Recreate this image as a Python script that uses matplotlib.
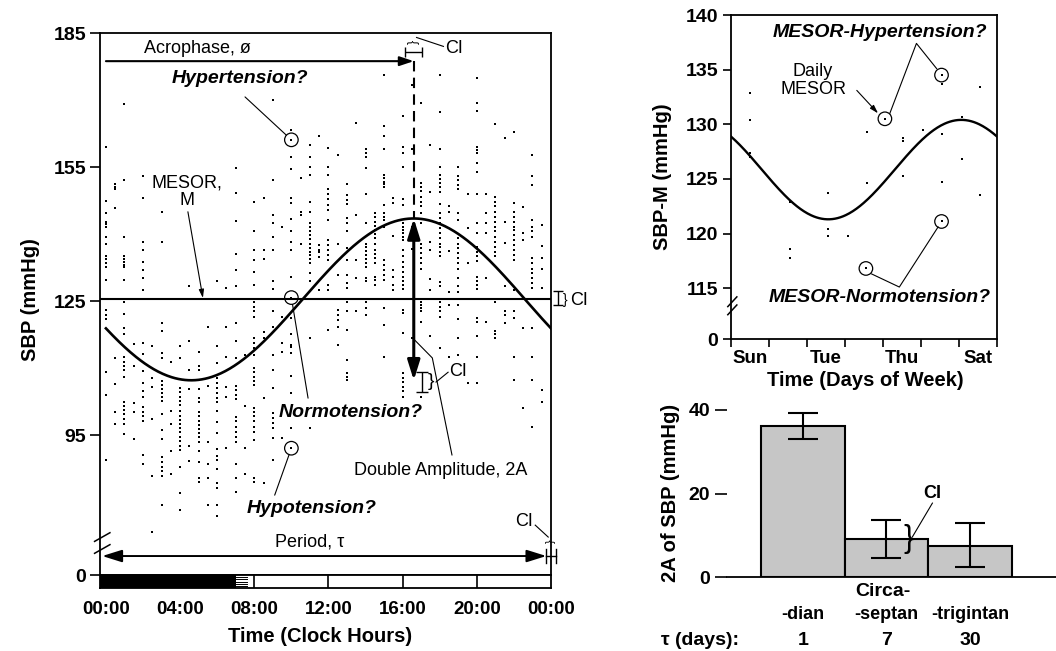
import numpy as np
import matplotlib
matplotlib.use("Agg")
import matplotlib.pyplot as plt
from matplotlib.patches import Rectangle
from matplotlib.transforms import blended_transform_factory

plt.rcParams['font.family'] = ['Liberation Sans', 'DejaVu Sans']
plt.rcParams['axes.linewidth'] = 1.3

W, H = 1056, 651

# ---------------- 24-hour profile: SBP readings in half-hour slots ----------------
sbp_00_08 = [
    [159.4, 147.5, 144.8, 142.8, 142.2, 141.5, 139.4, 137.8, 135.1, 134.4, 133.5, 132.7, 129.7, 123.0, 121.9, 121.0, 109.2, 104.0, 89.5],
    [151.2, 150.6, 150.0, 145.8, 112.2, 106.4, 100.3, 97.5],
    [169.1, 152.0, 139.3, 135.0, 134.4, 133.8, 133.2, 132.6, 129.7, 124.9, 122.1, 118.9, 117.6, 112.4, 111.5, 110.6, 109.6, 108.1, 102.5, 101.6, 100.7, 99.7, 98.7, 97.5, 95.2],
    [115.4, 110.4, 102.2, 100.3, 94.2],
    [153.0, 148.0, 138.3, 136.5, 133.8, 132.0, 130.1, 127.4, 115.6, 113.1, 109.4, 106.6, 104.8, 103.6, 101.4, 100.3, 99.2, 98.1, 90.6, 88.5],
    [115.0, 107.9, 105.9, 98.7, 85.8, 73.3],
    [145.0, 138.3, 120.1, 118.3, 113.3, 112.2, 107.2, 106.3, 105.4, 104.4, 103.6, 102.7, 99.7, 96.2, 94.2, 90.2, 89.1, 88.0, 86.9, 85.8, 79.4],
    [111.5, 100.4, 97.5, 91.4, 86.3],
    [115.0, 112.2, 105.5, 104.6, 103.6, 102.7, 101.8, 100.4, 99.4, 98.4, 97.5, 96.6, 95.7, 94.7, 93.7, 92.7, 91.7, 88.0, 82.0, 78.3],
    [128.3, 116.1, 109.6, 105.4, 92.5, 89.3],
    [113.7, 110.6, 109.6, 105.4, 103.3, 102.4, 100.2, 99.2, 98.2, 97.3, 96.4, 95.5, 94.5, 93.6, 91.4, 89.1, 85.5, 84.5],
    [119.3, 106.1, 93.6, 88.5, 85.5, 79.3],
    [129.6, 115.0, 111.1, 107.8, 106.6, 105.5, 104.4, 103.3, 102.4, 100.4, 97.9, 95.5, 91.9, 90.4, 89.5, 87.5, 84.3, 83.1, 79.3, 77.0],
    [127.9, 119.3, 112.6, 105.9, 103.6, 92.2],
    [154.9, 149.1, 143.0, 135.6, 132.0, 128.4, 120.1, 116.1, 112.2, 106.1, 105.1, 104.0, 103.1, 99.0, 98.1, 96.9, 95.8, 94.7, 93.6, 88.5, 85.4, 82.4],
    [113.0, 101.6, 92.2, 86.3],
]
sbp_08_16 = [
    [147.3, 140.6, 136.5, 134.2, 131.6, 128.6, 124.9, 123.8, 122.7, 121.5, 116.7, 115.6, 114.5, 113.0, 110.0, 109.1, 108.1, 107.2, 106.3, 101.2, 100.3, 99.2, 98.1, 96.9, 95.8, 93.9, 85.5, 84.6],
    [148.0, 136.5, 134.4, 118.2, 116.7, 103.4, 84.3],
    [170.0, 152.0, 144.3, 142.4, 139.3, 136.5, 129.6, 127.7, 122.9, 119.3, 113.0, 109.6, 105.5, 99.9, 98.8, 97.7, 96.6, 94.3, 89.5],
    [141.7, 121.5, 115.6, 113.7, 94.3],
    [163.3, 161.1, 157.2, 154.5, 148.0, 147.0, 143.3, 140.6, 138.3, 136.5, 130.5, 125.8, 121.3, 117.6, 115.2, 114.8, 113.3, 108.3, 104.4, 96.6, 92.1],
    [152.5, 145.0, 144.3, 137.9],
    [159.9, 157.2, 155.1, 153.2, 147.3, 145.0, 142.4, 141.5, 140.6, 139.7, 138.8, 137.9, 137.0, 136.1, 135.3, 134.4, 133.5, 131.4, 129.6, 116.7, 96.6],
    [162.0, 137.6, 136.5, 135.9, 134.8, 127.5],
    [159.2, 155.1, 153.2, 150.0, 148.9, 147.8, 146.5, 145.4, 143.2, 138.7, 137.6, 136.5, 135.3, 134.2, 128.6, 127.5, 118.6],
    [157.7, 137.9, 130.9, 123.0, 121.9, 120.8, 119.3, 115.2],
    [151.2, 148.8, 147.6, 146.7, 143.5, 142.4, 140.6, 136.8, 134.2, 130.9, 129.0, 127.9, 124.9, 122.7, 118.6, 111.9, 108.9, 108.1, 107.4],
    [164.9, 144.3, 134.2, 130.1, 122.7],
    [159.0, 158.1, 157.3, 154.7, 148.9, 142.6, 137.9, 137.1, 136.2, 135.3, 134.4, 133.5, 132.6, 130.1, 129.6, 124.9, 123.4, 121.9],
    [144.7, 143.8, 142.8, 141.8, 140.9, 140.0, 139.1, 137.9, 136.5, 135.6, 134.6, 133.5, 130.5, 129.7, 128.6],
    [175.6, 164.2, 162.0, 159.0, 153.2, 152.5, 151.7, 151.2, 150.6, 146.5, 144.8, 143.9, 143.2, 141.7, 134.2, 133.1, 132.0, 130.9, 129.7, 123.4, 119.7, 112.6],
    [148.0, 146.9, 139.6, 132.0, 130.5, 128.6, 127.5],
]
sbp_16_24 = [
    [166.4, 159.4, 158.2, 155.1, 147.8, 146.5, 142.4, 141.7, 140.9, 140.2, 139.4, 138.7, 136.5, 135.0, 133.8, 132.7, 131.6, 130.5, 129.6, 128.6, 127.7, 123.0, 122.3, 117.8, 108.9, 107.8, 106.9, 105.9, 104.8, 103.6],
    [173.4, 159.0, 141.7, 136.6, 116.7],
    [169.4, 151.4, 150.5, 149.6, 148.4, 147.3, 146.2, 144.7, 142.4, 137.9, 136.8, 135.7, 134.6, 133.5, 132.3, 124.9, 124.2, 123.4, 122.7, 120.4, 103.6],
    [159.9, 149.5, 138.3, 136.5, 129.9, 127.5, 117.1],
    [175.6, 167.4, 159.0, 155.1, 153.2, 152.3, 151.4, 150.5, 149.5, 146.7, 144.7, 143.5, 142.4, 141.3, 140.2, 139.1, 137.9, 137.2, 136.1, 135.0, 129.4, 128.3, 124.9, 123.8, 122.7, 121.5, 114.5],
    [146.2, 145.0, 136.3, 127.1, 124.2, 112.6],
    [155.1, 152.9, 152.0, 151.0, 150.0, 144.8, 143.2, 139.1, 137.9, 136.8, 135.7, 134.6, 133.5, 132.3, 130.1, 128.3, 127.1, 124.2, 121.0, 116.7, 113.0],
    [148.9, 141.3, 133.5, 106.6],
    [174.9, 169.3, 167.6, 159.6, 158.8, 158.1, 156.0, 153.8, 148.9, 142.4, 140.2, 137.2, 136.1, 135.0, 133.9, 130.5, 129.6, 128.6, 127.7, 121.3, 120.3, 117.3, 112.4, 106.6],
    [148.9, 144.8, 142.4, 140.3, 130.1, 120.4],
    [164.6, 148.4, 147.3, 146.2, 145.0, 143.9, 142.8, 141.7, 140.6, 139.4, 138.3, 137.2, 136.1, 135.0, 124.9, 118.3, 117.6, 116.8],
    [161.4, 142.8, 138.1, 128.3, 122.7, 121.8, 120.1],
    [162.9, 147.0, 145.0, 143.9, 142.8, 141.7, 140.9, 139.8, 138.7, 137.6, 136.5, 135.3, 134.2, 127.5, 122.7, 121.3, 112.6, 107.4],
    [146.0, 140.3, 138.7, 119.1, 101.2],
    [157.7, 152.9, 151.0, 143.2, 141.7, 140.6, 139.4, 134.6, 133.5, 132.3, 131.2, 130.1, 129.0, 127.9, 119.1, 112.4, 107.4, 96.9],
    [142.1, 137.4, 134.6, 132.1, 127.9, 105.1, 102.4],
]
hour_slots = np.arange(0, 24, 0.5)
sbp_ticks = [0, 95, 125, 155, 185]
hour_ticks = [0, 4, 8, 12, 16, 20, 24]
hour_labels = ['00:00', '04:00', '08:00', '12:00', '16:00', '20:00', '00:00']

# circadian cosinor fit
mesor_24h, amp_24h, acro_24h = 125.4, 18.1, 16.6
mesor_ci = (124.2, 127.3)
acro_ci = (16.15, 17.05)
trough_ci = (104.7, 109.2)
circled_hour = 10.0
circled_sbp = [161.1, 125.8, 92.1]

# ---------------- weekly profile of daily MESORs ----------------
week_day = [0.5, 0.5, 0.5, 0.5, 1.55, 1.55, 1.55, 2.56, 2.56, 2.56, 3.07, 3.57, 3.57, 3.55,
            4.05, 4.52, 4.52, 4.52, 5.06, 5.54, 5.54, 5.54, 5.54, 5.54, 6.07, 6.07, 6.55, 6.55]
week_sbp = [132.9, 130.4, 127.4, 127.0, 122.9, 118.6, 117.8, 123.7, 120.4, 119.8, 119.8, 129.3, 124.6, 116.8,
            130.5, 128.7, 128.5, 125.3, 129.5, 134.5, 133.7, 129.1, 124.7, 121.1, 130.7, 126.8, 133.4, 123.5]
week_circled_day = [4.05, 5.54, 3.55, 5.54]
week_circled_sbp = [130.5, 134.5, 116.8, 121.1]
mesor_7d, amp_7d, acro_7d = 125.85, 4.55, 6.06
week_ticks = [0, 115, 120, 125, 130, 135, 140]
day_labels = ['Sun', 'Tue', 'Thu', 'Sat']
day_label_pos = [0.5, 2.5, 4.5, 6.5]

# ---------------- double amplitudes by component ----------------
components = ['-dian', '-septan', '-trigintan']
periods_days = ['1', '7', '30']
double_amp = [36.2, 9.1, 7.5]
ci_low = [33.0, 4.6, 2.5]
ci_high = [39.3, 13.7, 12.9]
amp_ticks = [0, 20, 40]


def rect(l, t, r, b):
    return [l / W, 1 - b / H, (r - l) / W, (b - t) / H]


def broken_scale(brk, squeeze):
    def fwd(y):
        y = np.asarray(y, dtype=float)
        return np.where(y >= brk, y, brk - (brk - y) * squeeze)

    def inv(z):
        z = np.asarray(z, dtype=float)
        return np.where(z >= brk, z, brk - (brk - z) / squeeze)
    return fwd, inv


def axis_break(ax, y0, y1, dy):
    for yy in (y0, y1):
        ax.plot([-0.012, 0.022], [yy, yy + dy], transform=ax.transAxes,
                color='k', lw=1.1, clip_on=False, zorder=6)


fig = plt.figure(figsize=(W / 100, H / 100), dpi=100)

TICK = dict(fontsize=14, fontweight='bold')
TXT = dict(fontsize=13, color='k')
BI = dict(fontsize=14, fontweight='bold', fontstyle='italic', color='k')
LEAD = dict(color='k', lw=0.8)
DOT = dict(s=4.5, marker='s', c='k', linewidths=0)
head = '-|>,head_length=0.6,head_width=0.2'
dhead = '<|-|>,head_length=0.8,head_width=0.25'

# ======================= left: 24-hour SBP =======================
ax = fig.add_axes(rect(100, 33, 551, 575))
f1, i1 = broken_scale(70, 0.0895)
ax.set_yscale('function', functions=(f1, i1))
ax.set_xlim(-0.32, 24)
ax.set_ylim(0, 185)
ax.set_yticks(sbp_ticks, [str(t) for t in sbp_ticks], **TICK)
ax.yaxis.set_minor_locator(plt.NullLocator())
ax.set_xticks([])
ax.tick_params(axis='y', direction='out', length=7, width=1.2, pad=3)

hrs = np.concatenate([np.full(len(c), h) for h, c in zip(hour_slots, sbp_00_08 + sbp_08_16 + sbp_16_24)])
vals = np.concatenate(sbp_00_08 + sbp_08_16 + sbp_16_24)
ax.scatter(hrs, vals, zorder=3, **DOT)

t24 = np.linspace(0, 24, 400)
fit24 = mesor_24h + amp_24h * np.cos(2 * np.pi * (t24 - acro_24h) / 24)
ax.plot(t24, fit24, color='k', lw=1.9, zorder=4)
ax.axhline(mesor_24h, color='k', lw=1.5, zorder=4)

peak = mesor_24h + amp_24h
trough = mesor_24h - amp_24h
acro_y = 178.7
ax.annotate('', xy=(acro_24h, acro_y), xytext=(0, acro_y),
            arrowprops=dict(arrowstyle=head, color='k', lw=1.5, shrinkA=0, shrinkB=0, mutation_scale=14))
ax.plot([acro_24h, acro_24h], [acro_y, peak], color='k', lw=1.5, ls=(0, (5, 3)), zorder=4)
ax.annotate('', xy=(acro_24h, trough), xytext=(acro_24h, peak),
            arrowprops=dict(arrowstyle=dhead, color='k', lw=2.2, shrinkA=0, shrinkB=0, mutation_scale=15), zorder=5)

# acrophase CI
ax.errorbar(acro_24h, 180.8, xerr=[[acro_24h - acro_ci[0]], [acro_ci[1] - acro_24h]],
            fmt='none', ecolor='k', elinewidth=1.0, capsize=3.5, capthick=1.0)
ax.text(acro_24h, 183.0, '}', rotation=90, ha='center', va='center', fontsize=9)
ax.plot([acro_24h + 0.15, 18.2], [184.0, 182.0], **LEAD)
ax.text(18.3, 181.6, 'CI', ha='left', va='center', **TXT)
ax.text(4.96, 181.6, 'Acrophase, ø', ha='center', va='center', **TXT)

# amplitude CI
ax.errorbar(17.05, trough, yerr=[[trough - trough_ci[0]], [trough_ci[1] - trough]],
            fmt='none', ecolor='k', elinewidth=1.0, capsize=4.5, capthick=1.0)
ax.text(17.55, 107.0, '}', ha='center', va='center', fontsize=14)
ax.plot([17.8, 18.45], [106.9, 109.1], **LEAD)
ax.text(18.5, 109.3, 'CI', ha='left', va='center', **TXT)

# MESOR CI
ax.errorbar(24.4, mesor_24h, yerr=[[mesor_24h - mesor_ci[0]], [mesor_ci[1] - mesor_24h]],
            fmt='none', ecolor='k', elinewidth=1.0, capsize=3.5, capthick=1.0, clip_on=False)
ax.text(24.75, mesor_24h - 0.2, '}', ha='center', va='center', fontsize=10, clip_on=False)
ax.text(25.05, mesor_24h - 0.3, 'CI', ha='left', va='center', **TXT)

ax.text(4.37, 149.5, 'MESOR,\nM', ha='center', va='center', linespacing=1.0, **TXT)
ax.annotate('', xy=(5.23, mesor_24h + 0.3), xytext=(4.42, 145.0),
            arrowprops=dict(arrowstyle='-|>,head_length=0.5,head_width=0.15', color='k', lw=0.8,
                            shrinkA=0, shrinkB=0, mutation_scale=10))

# circled readings
ax.scatter([circled_hour] * 3, circled_sbp, s=95, facecolors='none', edgecolors='k', linewidths=0.9, zorder=5)
ax.text(7.23, 174.9, 'Hypertension?', ha='center', va='center', **BI)
ax.annotate('', xy=(circled_hour, circled_sbp[0]), xytext=(7.5, 170.7),
            arrowprops=dict(arrowstyle='-', color='k', lw=0.8, shrinkA=0, shrinkB=5))
ax.text(13.2, 100.2, 'Normotension?', ha='center', va='center', **BI)
ax.annotate('', xy=(circled_hour, circled_sbp[1]), xytext=(10.9, 103.3),
            arrowprops=dict(arrowstyle='-', color='k', lw=0.8, shrinkA=0, shrinkB=5))
ax.text(11.1, 78.7, 'Hypotension?', ha='center', va='center', **BI)
ax.annotate('', xy=(circled_hour, circled_sbp[2]), xytext=(9.1, 81.6),
            arrowprops=dict(arrowstyle='-', color='k', lw=0.8, shrinkA=0, shrinkB=5))

ax.text(18.07, 87.2, 'Double Amplitude, 2A', ha='center', va='center', **TXT)
ax.plot([18.66, 17.6, acro_24h + 0.05], [90.6, 112.3, 116.3], **LEAD)

# period arrow and its CI along the bottom
bt = blended_transform_factory(ax.transData, ax.transAxes)
ax.annotate('', xy=(-0.2, 0.035), xytext=(23.75, 0.035), xycoords=bt, textcoords=bt,
            arrowprops=dict(arrowstyle=dhead, color='k', lw=1.4, shrinkA=0, shrinkB=0, mutation_scale=15))
ax.plot([23.73, 24.27], [0.035, 0.035], transform=bt, color='k', lw=1.0, clip_on=False)
for xc in (23.73, 24.27):
    ax.plot([xc, xc], [0.022, 0.048], transform=bt, color='k', lw=1.0, clip_on=False)
ax.text(24.0, 0.062, '}', rotation=90, ha='center', va='center', fontsize=8, transform=bt)
ax.plot([23.15, 23.85], [0.092, 0.07], transform=bt, **LEAD)
ax.text(22.55, 0.098, 'CI', ha='center', va='center', transform=bt, **TXT)
ax.text(11.0, 0.061, 'Period, τ', ha='center', va='center', transform=bt, **TXT)
axis_break(ax, 0.04, 0.062, 0.016)

fig.text(30 / W, 1 - 300 / H, 'SBP (mmHg)', rotation=90, ha='center', va='center',
         fontsize=14.5, fontweight='bold')

# light/dark strip with clock-hour axis
axs = fig.add_axes(rect(100, 575, 551, 588))
axs.set_xlim(-0.32, 24)
axs.set_ylim(0, 1)
axs.set_yticks([])
axs.add_patch(Rectangle((-0.32, 0), 7.32, 1, color='k', lw=0))
for yy in np.linspace(0.15, 0.85, 5):
    axs.plot([7.0, 7.6], [yy, yy], color='k', lw=0.7)
for hh in (8, 12, 16, 20):
    axs.axvline(hh, color='k', lw=1.2)
axs.set_xticks(hour_ticks, hour_labels, fontsize=13.5, fontweight='bold')
axs.tick_params(axis='x', which='major', length=0, pad=9)
axs.set_xticks([0, 4, 8, 24], minor=True)
axs.tick_params(axis='x', which='minor', length=7, width=1.2, direction='out')
fig.text(320 / W, 1 - 636 / H, 'Time (Clock Hours)', ha='center', va='center',
         fontsize=14.5, fontweight='bold')

# ======================= right top: weekly MESORs =======================
axw = fig.add_axes(rect(731, 15, 997, 339))
f2, i2 = broken_scale(113, 0.0235)
axw.set_yscale('function', functions=(f2, i2))
axw.set_xlim(0, 7)
axw.set_ylim(0, 140)
axw.set_yticks(week_ticks, [str(t) for t in week_ticks], **TICK)
axw.yaxis.set_minor_locator(plt.NullLocator())
axw.tick_params(axis='y', direction='out', length=6, width=1.2, pad=3)
axw.set_xticks(range(8), [''] * 8)
axw.tick_params(axis='x', which='major', direction='out', length=6, width=1.2)
axw.set_xticks(day_label_pos, day_labels, minor=True, fontsize=13.5, fontweight='bold')
axw.tick_params(axis='x', which='minor', length=0, pad=8)

axw.scatter(week_day, week_sbp, zorder=3, **DOT)
t7 = np.linspace(0, 7, 300)
axw.plot(t7, mesor_7d + amp_7d * np.cos(2 * np.pi * (t7 - acro_7d) / 7), color='k', lw=1.7)
axw.scatter(week_circled_day, week_circled_sbp, s=95, facecolors='none', edgecolors='k',
            linewidths=0.9, zorder=5)

axw.text(3.92, 138.4, 'MESOR-Hypertension?', ha='center', va='center', **BI)
axw.plot([4.18, 4.88, 5.41], [131.0, 137.4, 135.1], **LEAD)
axw.text(2.16, 134.0, 'Daily\nMESOR', ha='center', va='center', linespacing=1.05, **TXT)
axw.annotate('', xy=(3.87, 131.0), xytext=(3.31, 133.1),
             arrowprops=dict(arrowstyle='-|>,head_length=0.5,head_width=0.15', color='k', lw=0.8,
                             shrinkA=0, shrinkB=0, mutation_scale=10))
axw.text(3.9, 114.1, 'MESOR-Normotension?', ha='center', va='center', **BI)
axw.plot([3.7, 4.43, 5.45], [116.3, 115.1, 120.6], **LEAD)
axis_break(axw, 0.075, 0.1, 0.03)

fig.text(662 / W, 1 - 177 / H, 'SBP-M (mmHg)', rotation=90, ha='center', va='center',
         fontsize=14.5, fontweight='bold')
fig.text(865 / W, 1 - 380 / H, 'Time (Days of Week)', ha='center', va='center',
         fontsize=14.5, fontweight='bold')

# ======================= right bottom: double amplitudes =======================
axb = fig.add_axes(rect(727, 410, 1056, 577))
bar_pos = np.arange(1, len(components) + 1)
axb.set_xlim(0.09, 4.03)
axb.set_ylim(0, 40)
axb.bar(bar_pos, double_amp, width=1.0, color='#c6c6c6', edgecolor='k', linewidth=1.5, zorder=2)
yerr = [np.array(double_amp) - np.array(ci_low), np.array(ci_high) - np.array(double_amp)]
axb.errorbar(bar_pos, double_amp, yerr=yerr, fmt='none', ecolor='k', elinewidth=1.5,
             capsize=11, capthick=1.5, zorder=3)
for s in ('top', 'right', 'left'):
    axb.spines[s].set_visible(False)
axb.set_xticks([])
axb.set_yticks(amp_ticks, [str(t) for t in amp_ticks], **TICK)
axb.tick_params(axis='y', direction='out', length=9, width=1.2, pad=3)

axb.text(2.27, 9.1, '}', ha='center', va='center', fontsize=22, zorder=4)
axb.plot([2.31, 2.55], [9.6, 17.7], **LEAD)
axb.text(2.55, 20.1, 'CI', ha='center', va='center', fontsize=13, fontweight='bold')

xt = axb.get_xaxis_transform()
axb.text(1.96, -0.084, 'Circa-', transform=xt, ha='center', va='center', fontsize=14, fontweight='bold')
for xp, comp, per in zip(bar_pos, components, periods_days):
    axb.text(xp, -0.222, comp, transform=xt, ha='center', va='center', fontsize=13, fontweight='bold')
    axb.text(xp, -0.383, per, transform=xt, ha='center', va='center', fontsize=14, fontweight='bold')
axb.text(-0.23, -0.383, 'τ (days):', transform=xt, ha='center', va='center', fontsize=14, fontweight='bold')
fig.text(670 / W, 1 - 493 / H, '2A of SBP (mmHg)', rotation=90, ha='center', va='center',
         fontsize=14.5, fontweight='bold')

fig.savefig('out.png', dpi=100, facecolor='white')
